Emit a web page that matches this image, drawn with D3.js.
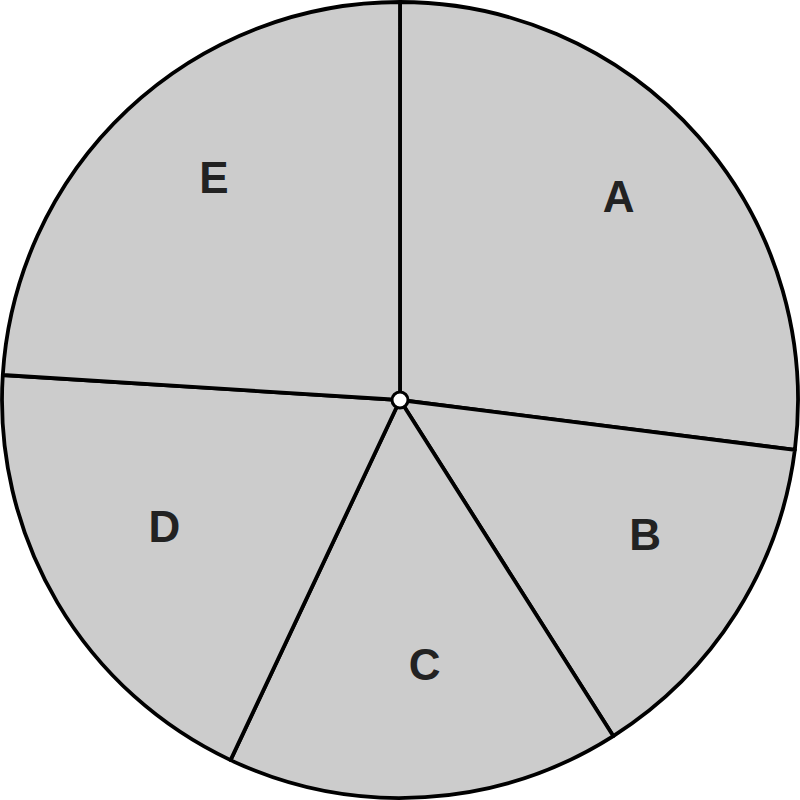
<!DOCTYPE html>
<html>
<head>
<meta charset="utf-8">
<script src="https://cdn.jsdelivr.net/npm/d3@7"></script>
<style>
  html, body { margin: 0; padding: 0; background: #ffffff; }
  svg { display: block; }
</style>
</head>
<body>
<svg id="chart" width="800" height="800"></svg>
<script>
const categories = ["A", "B", "C", "D", "E"];
const values = [27, 14, 16, 19, 24];

const width = 800, height = 800;
const cx = 400, cy = 400;
const radius = 398;
const labelRadius = 282;
const labelShiftX = 7, labelShiftY = -17;

const svg = d3.select("#chart");
const g = svg.append("g").attr("transform", `translate(${cx},${cy})`);

const data = categories.map((c, i) => ({ cat: c, value: values[i] }));

const pie = d3.pie().value(d => d.value).sort(null);
const arcs = pie(data);

const arc = d3.arc().innerRadius(0).outerRadius(radius);
const labelArc = d3.arc().innerRadius(labelRadius).outerRadius(labelRadius);

g.selectAll("path.slice")
  .data(arcs)
  .join("path")
  .attr("class", "slice")
  .attr("d", arc)
  .attr("fill", "#cccccc")
  .attr("stroke", "#000000")
  .attr("stroke-width", 3.8)
  .attr("stroke-linejoin", "round");

const labels = g.append("g").attr("transform", `translate(${labelShiftX},${labelShiftY})`);

labels.selectAll("text.label")
  .data(arcs)
  .join("text")
  .attr("class", "label")
  .attr("transform", d => `translate(${labelArc.centroid(d)})`)
  .attr("text-anchor", "middle")
  .attr("dominant-baseline", "central")
  .attr("font-family", "'Liberation Sans', Arial, sans-serif")
  .attr("font-weight", "bold")
  .attr("font-size", 44)
  .attr("fill", "#222222")
  .text(d => d.data.cat);

g.append("circle")
  .attr("r", 8)
  .attr("fill", "#ffffff")
  .attr("stroke", "#000000")
  .attr("stroke-width", 3);
</script>
</body>
</html>
